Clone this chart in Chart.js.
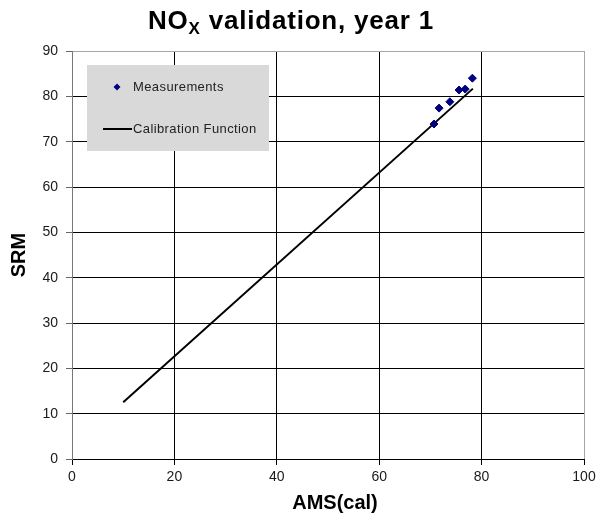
<!DOCTYPE html>
<html>
<head>
<meta charset="utf-8">
<title>NOx validation, year 1</title>
<script src="https://cdn.jsdelivr.net/npm/chart.js@4/dist/chart.umd.min.js"></script>
<style>
  html, body { margin: 0; padding: 0; background: #fff; }
  #wrap { width: 596px; height: 524px; }
</style>
</head>
<body>
<div id="wrap"><canvas id="chart" width="596" height="524"></canvas></div>
<script>
// data
const measX = [70.7, 71.7, 73.8, 75.6, 76.8, 78.2];
const measY = [73.9, 77.4, 78.8, 81.4, 81.6, 84.0];
const calibX = [10, 78.3];
const calibY = [12.5, 81.7];
const xTicks = [0, 20, 40, 60, 80, 100];
const yTicks = [0, 10, 20, 30, 40, 50, 60, 70, 80, 90];

const FONT = '"Liberation Sans", Arial, sans-serif';

function toPoints(xs, ys) {
    return xs.map((x, i) => ({ x: x, y: ys[i] }));
}

// title with subscript, axis titles and the grey legend box
const decor = {
    id: 'decor',
    afterDraw(chart) {
        const ctx = chart.ctx;
        const area = chart.chartArea;
        ctx.save();
        ctx.fillStyle = '#000';

        // title: NO + subscript X + rest
        ctx.textBaseline = 'alphabetic';
        ctx.textAlign = 'left';
        ctx.letterSpacing = '0.8px';
        ctx.font = 'bold 26px ' + FONT;
        const w1 = ctx.measureText('NO').width;
        const w3 = ctx.measureText(' validation, year 1').width;
        ctx.font = 'bold 17px ' + FONT;
        const w2 = ctx.measureText('X').width;
        let tx = 291 - (w1 + w2 + w3) / 2;
        ctx.font = 'bold 26px ' + FONT;
        ctx.fillText('NO', tx, 29);
        tx += w1;
        ctx.font = 'bold 17px ' + FONT;
        ctx.fillText('X', tx, 34);
        tx += w2;
        ctx.font = 'bold 26px ' + FONT;
        ctx.fillText(' validation, year 1', tx, 29);
        ctx.letterSpacing = '0px';

        // axis titles
        ctx.font = 'bold 20px ' + FONT;
        ctx.textAlign = 'center';
        ctx.textBaseline = 'middle';
        ctx.fillText('AMS(cal)', 335, 503);
        ctx.save();
        ctx.translate(19, (area.top + area.bottom) / 2);
        ctx.rotate(-Math.PI / 2);
        ctx.fillText('SRM', 0, 0);
        ctx.restore();

        // legend box
        const lx = area.left + 15, ly = area.top + 14;
        ctx.fillStyle = '#d9d9d9';
        ctx.fillRect(lx, ly, 182, 86);

        const ds = chart.data.datasets;
        ctx.font = '13px ' + FONT;
        ctx.letterSpacing = '0.4px';
        ctx.textAlign = 'left';

        // measurements entry
        ctx.fillStyle = ds[0].backgroundColor;
        ctx.strokeStyle = ds[0].borderColor;
        ctx.lineWidth = 1;
        ctx.beginPath();
        ctx.moveTo(lx + 30, ly + 18.5);
        ctx.lineTo(lx + 33.5, ly + 22);
        ctx.lineTo(lx + 30, ly + 25.5);
        ctx.lineTo(lx + 26.5, ly + 22);
        ctx.closePath();
        ctx.fill();
        ctx.fillStyle = '#222';
        ctx.fillText(ds[0].label, lx + 46, ly + 22);

        // calibration entry
        ctx.strokeStyle = ds[1].borderColor;
        ctx.lineWidth = 2;
        ctx.beginPath();
        ctx.moveTo(lx + 16, ly + 64);
        ctx.lineTo(lx + 45, ly + 64);
        ctx.stroke();
        ctx.fillText(ds[1].label, lx + 46, ly + 64);

        ctx.restore();
    }
};

const whiteBg = {
    id: 'whiteBg',
    beforeDraw(chart) {
        const ctx = chart.ctx;
        ctx.save();
        ctx.fillStyle = '#fff';
        ctx.fillRect(0, 0, chart.width, chart.height);
        ctx.restore();
    }
};

new Chart(document.getElementById('chart').getContext('2d'), {
    type: 'scatter',
    data: {
        datasets: [{
            label: 'Measurements',
            data: toPoints(measX, measY),
            pointStyle: 'rectRot',
            pointRadius: 4,
            pointHoverRadius: 4,
            backgroundColor: '#000080',
            borderColor: '#000080',
            borderWidth: 1,
            showLine: false
        }, {
            label: 'Calibration Function',
            data: toPoints(calibX, calibY),
            showLine: true,
            borderColor: '#000',
            backgroundColor: '#000',
            borderWidth: 2,
            pointRadius: 0,
            pointHoverRadius: 0,
            fill: false
        }]
    },
    options: {
        responsive: false,
        animation: false,
        events: [],
        layout: { padding: { top: 51, right: 12, left: 0, bottom: 0 } },
        plugins: {
            legend: { display: false },
            title: { display: false },
            tooltip: { enabled: false }
        },
        scales: {
            x: {
                type: 'linear',
                min: 0,
                max: 100,
                afterBuildTicks(scale) {
                    scale.ticks = xTicks.map(v => ({ value: v }));
                },
                afterFit(scale) {
                    scale.height = 65;
                    // let the "100" label run into the right margin
                    scale.paddingRight = 0;
                    scale.paddingLeft = 0;
                },
                ticks: {
                    padding: 4,
                    color: '#1a1a1a',
                    font: { family: FONT, size: 14 },
                    maxRotation: 0
                },
                grid: {
                    color: ctx => ctx.tick && ctx.tick.value === 100 ? '#a6a6a6' : '#000',
                    tickColor: '#000',
                    tickLength: 6,
                    lineWidth: 1
                },
                border: { color: '#000', width: 1 }
            },
            y: {
                type: 'linear',
                min: 0,
                max: 90,
                afterBuildTicks(scale) {
                    scale.ticks = yTicks.map(v => ({ value: v }));
                },
                afterFit(scale) { scale.width = 72; },
                ticks: {
                    padding: 8,
                    color: '#1a1a1a',
                    font: { family: FONT, size: 14 }
                },
                grid: {
                    color: ctx => ctx.tick && ctx.tick.value === 90 ? '#a6a6a6' : '#000',
                    tickColor: '#666',
                    tickLength: 6,
                    lineWidth: 1
                },
                border: { color: '#777', width: 1 }
            }
        }
    },
    plugins: [whiteBg, decor]
});
</script>
</body>
</html>
